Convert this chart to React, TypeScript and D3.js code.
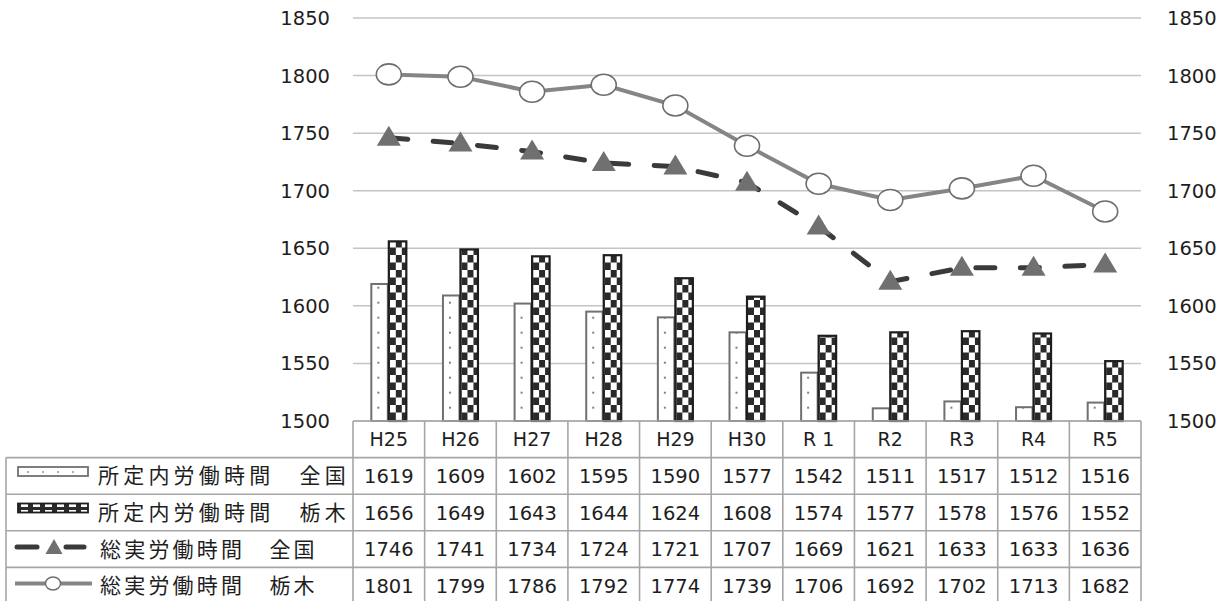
import React from "react";
import * as d3 from "d3";

const categories = ["H25", "H26", "H27", "H28", "H29", "H30", "R 1", "R2", "R3", "R4", "R5"];
const scheduledNational = [1619, 1609, 1602, 1595, 1590, 1577, 1542, 1511, 1517, 1512, 1516];
const scheduledTochigi = [1656, 1649, 1643, 1644, 1624, 1608, 1574, 1577, 1578, 1576, 1552];
const totalNational = [1746, 1741, 1734, 1724, 1721, 1707, 1669, 1621, 1633, 1633, 1636];
const totalTochigi = [1801, 1799, 1786, 1792, 1774, 1739, 1706, 1692, 1702, 1713, 1682];
const yTicks = [1500, 1550, 1600, 1650, 1700, 1750, 1800, 1850];
const seriesNames = ["所定内労働時間　全国", "所定内労働時間　栃木", "総実労働時間　全国", "総実労働時間　栃木"];

const W = 1229;
const H = 601;
const NUMFONT = "'DejaVu Sans', 'Noto Sans CJK JP', sans-serif";
const CJKFONT = "'Noto Sans CJK JP', 'DejaVu Sans', sans-serif";

export default function App() {
  const left = 353;
  const right = 1141;
  const top = 18;
  const bottom = 421;
  const tableLeft = 6;
  const rowH = 36.6;

  const x = d3.scaleBand<string>().domain(categories).range([left, right]);
  const y = d3.scaleLinear().domain([1500, 1850]).range([bottom, top]);
  const bw = x.bandwidth();
  const barW = 17.5;

  const lineGen = d3
    .line<number>()
    .x((_, i) => (x(categories[i]) as number) + bw / 2)
    .y((d) => y(d));

  const rows = [scheduledNational, scheduledTochigi, totalNational, totalTochigi];
  const gridColor = "#c4c4c4";
  const tableColor = "#a6a6a6";
  const txt = "#1e1e1e";

  const tri = (cx: number, cy: number, w: number, h: number) =>
    `M${cx},${cy - h * 0.6} L${cx + w / 2},${cy + h * 0.4} L${cx - w / 2},${cy + h * 0.4} Z`;

  return (
    <svg width={W} height={H} style={{ display: "block", position: "absolute", left: 0, top: 0, background: "#fff" }} fontFamily={NUMFONT}>
      <defs>
        {categories.map((c, i) => {
          const bx = (x(c) as number) + bw / 2 - barW;
          return (
            <pattern key={"d" + i} id={"dots" + i} patternUnits="userSpaceOnUse" x={bx} y={2.7} width={15} height={15}>
              <rect width={15} height={15} fill="#fff" />
              <circle cx={7} cy={0} r={0.9} fill="#444" />
              <circle cx={7} cy={15} r={0.9} fill="#444" />
            </pattern>
          );
        })}
        {categories.map((c, i) => {
          const bx = (x(c) as number) + bw / 2 + 1;
          return (
            <pattern key={"c" + i} id={"chk" + i} patternUnits="userSpaceOnUse" x={bx} y={0} width={12} height={15}>
              <rect width={12} height={15} fill="#fff" />
              <rect x={6} y={0} width={6} height={7.5} fill="#2a2a2a" />
              <rect x={0} y={7.5} width={6} height={7.5} fill="#2a2a2a" />
            </pattern>
          );
        })}
        <pattern id="dotsLeg" patternUnits="userSpaceOnUse" x={18} y={465} width={15} height={15}>
          <rect width={15} height={15} fill="#fff" />
          <circle cx={10} cy={7} r={0.8} fill="#444" />
        </pattern>
        <pattern id="chkLeg" patternUnits="userSpaceOnUse" x={19} y={468} width={12} height={6}>
          <rect width={12} height={6} fill="#2a2a2a" />
          <rect x={2} y={0} width={7} height={3} fill="#fff" />
        </pattern>
      </defs>

      {/* gridlines */}
      {yTicks.map((t) => (
        <line key={t} x1={left} x2={right} y1={y(t)} y2={y(t)} stroke={gridColor} strokeWidth={1.5} />
      ))}
      {/* axis labels */}
      {yTicks.map((t) => (
        <text key={"l" + t} x={330} y={y(t)} dy="0.36em" textAnchor="end" fontSize={19.5} fill={txt}>
          {t}
        </text>
      ))}
      {yTicks.map((t) => (
        <text key={"r" + t} x={1167} y={y(t)} dy="0.36em" textAnchor="start" fontSize={19.5} fill={txt}>
          {t}
        </text>
      ))}

      {/* bars */}
      {categories.map((c, i) => {
        const cx = (x(c) as number) + bw / 2;
        return (
          <g key={"b" + i}>
            <rect
              x={cx - barW}
              y={y(scheduledNational[i])}
              width={barW - 1}
              height={bottom - y(scheduledNational[i])}
              fill={`url(#dots${i})`}
              stroke="#707070"
              strokeWidth={2}
            />
            <rect
              x={cx}
              y={y(scheduledTochigi[i])}
              width={barW}
              height={bottom - y(scheduledTochigi[i])}
              fill={`url(#chk${i})`}
              stroke="#1e1e1e"
              strokeWidth={2.2}
            />
          </g>
        );
      })}

      {/* total national dashed */}
      <path d={lineGen(totalNational) as string} fill="none" stroke="#3a3a3a" strokeWidth={5} strokeDasharray="19 25.5" strokeLinecap="round" />
      {totalNational.map((v, i) => (
        <path key={"t" + i} d={tri((x(categories[i]) as number) + bw / 2, y(v), 24, 20)} fill="#707070" />
      ))}

      {/* total tochigi */}
      <path d={lineGen(totalTochigi) as string} fill="none" stroke="#858585" strokeWidth={4} />
      {totalTochigi.map((v, i) => (
        <ellipse key={"o" + i} cx={(x(categories[i]) as number) + bw / 2} cy={y(v)} rx={12.5} ry={10.5} fill="#fff" stroke="#6e6e6e" strokeWidth={1.6} />
      ))}

      {/* table */}
      <g>
        <line x1={left} x2={right} y1={bottom} y2={bottom} stroke={tableColor} strokeWidth={1.6} />
        {[1, 2, 3, 4, 5].map((r) => (
          <line key={"h" + r} x1={tableLeft} x2={right} y1={bottom + rowH * r} y2={bottom + rowH * r} stroke={tableColor} strokeWidth={1.6} />
        ))}
        <line x1={tableLeft} x2={tableLeft} y1={bottom + rowH} y2={bottom + rowH * 5} stroke={tableColor} strokeWidth={1.6} />
        {categories.map((c, i) => (
          <line key={"v" + i} x1={x(c) as number} x2={x(c) as number} y1={bottom} y2={bottom + rowH * 5} stroke={tableColor} strokeWidth={1.6} />
        ))}
        <line x1={right} x2={right} y1={bottom} y2={bottom + rowH * 5} stroke={tableColor} strokeWidth={1.6} />
        {categories.map((c, i) => (
          <text key={"hc" + i} x={(x(c) as number) + bw / 2} y={bottom + rowH / 2} dy="0.36em" textAnchor="middle" fontSize={19} fill={txt}>
            {c}
          </text>
        ))}
        {rows.map((row, r) =>
          row.map((v, i) => (
            <text key={`v${r}-${i}`} x={(x(categories[i]) as number) + bw / 2} y={bottom + rowH * (r + 1.5)} dy="0.36em" textAnchor="middle" fontSize={19.5} fill={txt}>
              {v}
            </text>
          ))
        )}
        {/* legend keys */}
        <rect x={18} y={467} width={70} height={9} fill="url(#dotsLeg)" stroke="#707070" strokeWidth={1.8} />
        <rect x={18} y={503.5} width={70} height={9} fill="url(#chkLeg)" stroke="#1e1e1e" strokeWidth={1.8} />
        <line x1={17} x2={37} y1={547} y2={547} stroke="#3a3a3a" strokeWidth={5} strokeLinecap="round" />
        <line x1={66} x2={84} y1={547} y2={547} stroke="#3a3a3a" strokeWidth={5} strokeLinecap="round" />
        <path d={tri(54, 548, 17, 15)} fill="#707070" />
        <line x1={15} x2={92} y1={583.5} y2={583.5} stroke="#858585" strokeWidth={4} />
        <ellipse cx={53} cy={583.5} rx={7.5} ry={6.5} fill="#fff" stroke="#6e6e6e" strokeWidth={1.4} />
        {seriesNames.map((n, r) => (
          <text
            key={"sn" + r}
            x={r < 2 ? 98 : 100}
            y={bottom + rowH * (r + 1.5)}
            dy="0.36em"
            fontSize={21}
            letterSpacing={r < 2 ? 4.2 : 3.2}
            fill={txt}
            fontFamily={CJKFONT}
            xmlSpace="preserve"
          >
            {n}
          </text>
        ))}
      </g>
    </svg>
  );
}
